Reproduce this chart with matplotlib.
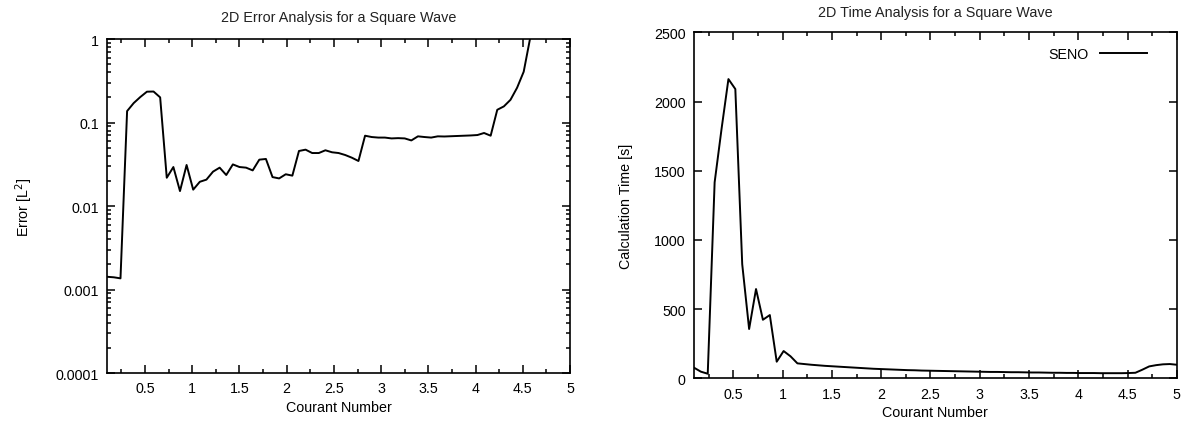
import matplotlib.pyplot as plt
from matplotlib.ticker import MultipleLocator, LogLocator, NullFormatter

plt.rcParams['font.family'] = ['Liberation Sans', 'DejaVu Sans']
plt.rcParams['font.size'] = 10.3

# Courant numbers (step 0.07)
courant = [0.10, 0.17, 0.24, 0.31, 0.38, 0.45, 0.52, 0.59, 0.66, 0.73,
           0.80, 0.87, 0.94, 1.01, 1.08, 1.15, 1.22, 1.29, 1.36, 1.43,
           1.50, 1.57, 1.64, 1.71, 1.78, 1.85, 1.92, 1.99, 2.06, 2.13,
           2.20, 2.27, 2.34, 2.41, 2.48, 2.55, 2.62, 2.69, 2.76, 2.83,
           2.90, 2.97, 3.04, 3.11, 3.18, 3.25, 3.32, 3.39, 3.46, 3.53,
           3.60, 3.67, 3.74, 3.81, 3.88, 3.95, 4.02, 4.09, 4.16, 4.23,
           4.30, 4.37, 4.44, 4.51, 4.58, 4.65, 4.72, 4.79, 4.86, 4.93,
           5.00]

# L2 error (visible part, up to 4.58)
error_l2 = [0.00142, 0.0014, 0.00136, 0.137, 0.171, 0.202, 0.234, 0.235, 0.2, 0.0218,
            0.0293, 0.0151, 0.031, 0.0157, 0.0195, 0.0207, 0.0258, 0.0288, 0.0235, 0.0315,
            0.0293, 0.0288, 0.0267, 0.0359, 0.0366, 0.0222, 0.0214, 0.024, 0.0231, 0.0456,
            0.0473, 0.0431, 0.0431, 0.0465, 0.044, 0.0431, 0.0408, 0.0379, 0.0346, 0.0695,
            0.067, 0.066, 0.066, 0.0645, 0.065, 0.0645, 0.061, 0.0683, 0.067, 0.066,
            0.0683, 0.068, 0.0685, 0.069, 0.0695, 0.07, 0.0708, 0.0749, 0.0695, 0.142,
            0.156, 0.187, 0.261, 0.406, 1.05]

# calculation time [s]
calc_time = [77, 48, 33, 1416, 1801, 2162, 2090, 824, 356, 645,
             423, 457, 120, 197, 159, 108, 103, 98, 94, 90,
             87, 84, 81, 78, 75, 72, 69, 67, 65, 63,
             61, 59, 58, 56, 55, 54, 53, 52, 51, 50,
             49, 48, 47, 46, 46, 45, 44, 44, 43, 42,
             42, 41, 40, 40, 39, 39, 38, 38, 38, 37,
             37, 37, 37, 38, 40, 62, 86, 95, 101, 103,
             98]

xtick_vals = [0.5, 1, 1.5, 2, 2.5, 3, 3.5, 4, 4.5, 5]
xtick_labels = ['0.5', '1', '1.5', '2', '2.5', '3', '3.5', '4', '4.5', '5']

fig = plt.figure(figsize=(11.84, 4.27), dpi=100)
ax1 = fig.add_axes([0.0906, 0.1241, 0.3908, 0.7822])
ax2 = fig.add_axes([0.5861, 0.1117, 0.4078, 0.8103])


def style(ax):
    for s in ax.spines.values():
        s.set_linewidth(1.2)
    ax.tick_params(which='both', direction='in', top=True, right=True, width=1.1)
    ax.tick_params(which='major', length=6, pad=6)
    ax.tick_params(which='minor', length=3)


# left: error
ax1.plot(courant[:len(error_l2)], error_l2, color='black', lw=1.4)
ax1.set_yscale('log')
ax1.set_xlim(0.1, 5)
ax1.set_ylim(0.0001, 1)
ax1.set_xticks(xtick_vals)
ax1.set_xticklabels(xtick_labels)
ax1.xaxis.set_minor_locator(MultipleLocator(0.25))
ax1.set_yticks([0.0001, 0.001, 0.01, 0.1, 1])
ax1.set_yticklabels(['0.0001', '0.001', '0.01', '0.1', '1'])
ax1.yaxis.set_minor_locator(LogLocator(base=10, subs=range(2, 10)))
ax1.yaxis.set_minor_formatter(NullFormatter())
style(ax1)
ax1.set_title('2D Error Analysis for a Square Wave', fontsize=10.4, pad=13, color='#222222')
ax1.set_xlabel('Courant Number', labelpad=3)
ax1.set_ylabel('Error [L$^2$]', labelpad=15)

# right: time
ax2.plot(courant, calc_time, color='black', lw=1.4, label='SENO')
ax2.set_xlim(0.1, 5)
ax2.set_ylim(0, 2500)
ax2.set_xticks(xtick_vals)
ax2.set_xticklabels(xtick_labels)
ax2.xaxis.set_minor_locator(MultipleLocator(0.25))
ax2.set_yticks([0, 500, 1000, 1500, 2000, 2500])
style(ax2)
ax2.set_title('2D Time Analysis for a Square Wave', fontsize=10.4, pad=12, color='#222222')
ax2.set_xlabel('Courant Number', labelpad=3)
ax2.set_ylabel('Calculation Time [s]', labelpad=15)
ax2.legend(loc='upper right', frameon=False, markerfirst=False,
           handlelength=3.3, borderaxespad=0.6, bbox_to_anchor=(0.968, 1.0))

fig.savefig('out.png', dpi=100)
